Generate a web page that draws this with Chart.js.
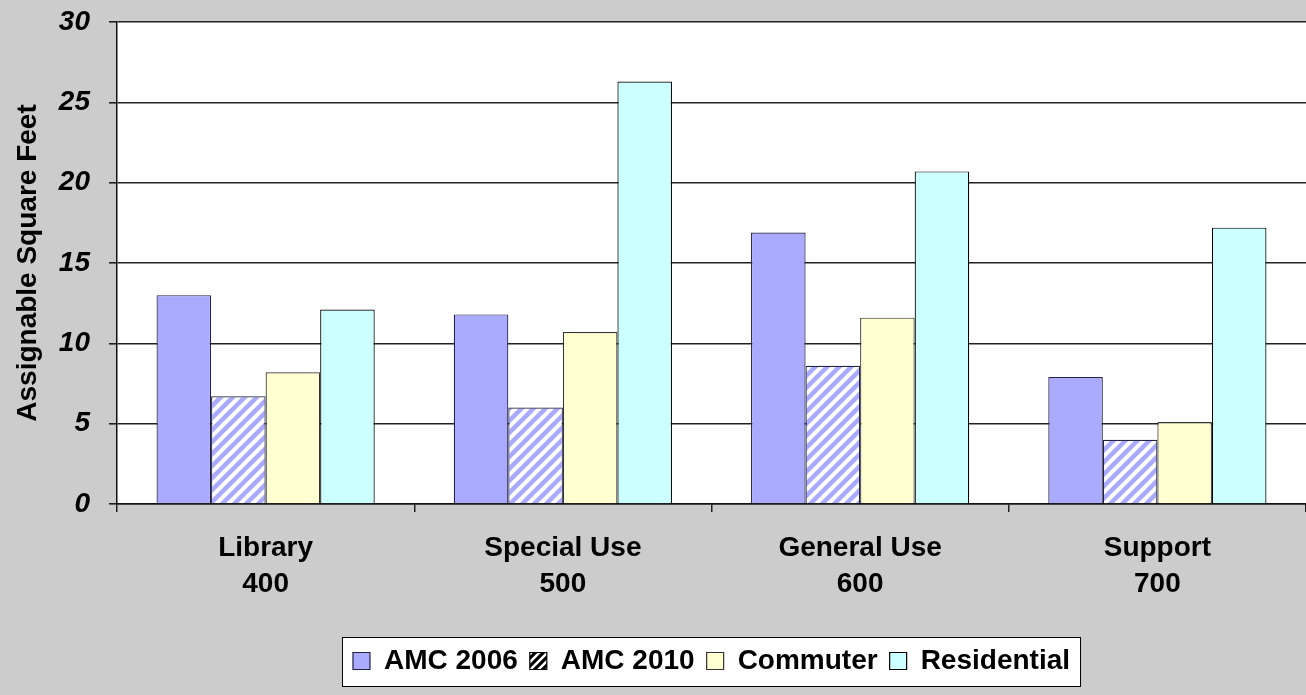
<!DOCTYPE html>
<html>
<head>
<meta charset="utf-8">
<script src="https://cdn.jsdelivr.net/npm/chart.js@4.4.1/dist/chart.umd.min.js"></script>
<style>
  body { margin: 0; background: #cccccc; }
  #wrap { width: 1306px; height: 695px; }
</style>
</head>
<body>
<div id="wrap"><canvas id="chart" width="1306" height="695"></canvas></div>
<script>
// data
const categories = [['Library', '400'], ['Special Use', '500'], ['General Use', '600'], ['Support', '700']];
const amc2006 = [13.0, 11.8, 16.9, 7.9];
const amc2010 = [6.7, 6.0, 8.6, 4.0];
const commuter = [8.2, 10.7, 11.6, 5.1];
const residential = [12.1, 26.3, 20.7, 17.2];

const FONT = "'Liberation Sans', Arial, sans-serif";

// diagonal stripe fill for AMC 2010
function makeStripes(bg, fg, size, lw) {
    const c = document.createElement('canvas');
    c.width = size;
    c.height = size;
    const x = c.getContext('2d');
    x.fillStyle = bg;
    x.fillRect(0, 0, size, size);
    x.strokeStyle = fg;
    x.lineWidth = lw;
    x.beginPath();
    x.moveTo(-size / 2, size / 2); x.lineTo(size / 2, -size / 2);
    x.moveTo(0, size); x.lineTo(size, 0);
    x.moveTo(size / 2, size * 1.5); x.lineTo(size * 1.5, size / 2);
    x.stroke();
    return x.createPattern(c, 'repeat');
}

const ctx = document.getElementById('chart').getContext('2d');
const hatch = makeStripes('#aaaaff', '#ffffff', 12, 4);
const legendHatch = makeStripes('#000000', '#ffffff', 8, 2.5);

// paints the white plot area and the legend frame, and centres the legend under the plot
const backdrop = {
    id: 'backdrop',
    afterLayout(chart) {
        const lg = chart.legend;
        lg.left = chart.chartArea.left;
        lg.right = chart.chartArea.right;
    },
    beforeDraw(chart) {
        const c = chart.ctx;
        const a = chart.chartArea;
        c.save();
        c.fillStyle = '#ffffff';
        c.fillRect(a.left, a.top, a.right - a.left, a.bottom - a.top);
        const boxes = chart.legend.legendHitBoxes;
        if (boxes && boxes.length) {
            const first = boxes[0];
            const last = boxes[boxes.length - 1];
            const l = first.left - 11;
            const r = last.left + last.width + 10;
            const t = first.top - 10;
            const b = first.top + 28 + 11;
            c.fillRect(l, t, r - l, b - t);
            c.strokeStyle = '#000000';
            c.lineWidth = 1;
            c.strokeRect(l + 0.5, t + 0.5, r - l, b - t);
        }
        c.restore();
    }
};

const chart = new Chart(ctx, {
    type: 'bar',
    data: {
        labels: categories,
        datasets: [{
            label: 'AMC 2006',
            data: amc2006,
            backgroundColor: '#aaaaff',
            borderColor: '#222244',
            borderWidth: 1.2
        },
        {
            label: 'AMC 2010',
            data: amc2010,
            backgroundColor: hatch,
            borderColor: '#222244',
            borderWidth: 1.2
        },
        {
            label: 'Commuter',
            data: commuter,
            backgroundColor: '#ffffd2',
            borderColor: '#333333',
            borderWidth: 1.2
        },
        {
            label: 'Residential',
            data: residential,
            backgroundColor: '#ccffff',
            borderColor: '#000000',
            borderWidth: 1.2
        }]
    },
    options: {
        responsive: false,
        animation: false,
        layout: { padding: { top: 22, right: 0, left: 0, bottom: 10 } },
        datasets: {
            bar: { categoryPercentage: 0.734, barPercentage: 1 }
        },
        plugins: {
            tooltip: { enabled: false },
            legend: {
                position: 'bottom',
                labels: {
                    color: '#000000',
                    font: { family: FONT, size: 28, weight: 'bold' },
                    boxWidth: 17,
                    boxHeight: 17,
                    padding: 12,
                    generateLabels(chart) {
                        const items = Chart.defaults.plugins.legend.labels.generateLabels(chart);
                        items[1].fillStyle = legendHatch;
                        items[1].strokeStyle = '#000000';
                        return items;
                    }
                }
            }
        },
        scales: {
            x: {
                afterFit(s) { s.height = 131; },
                grid: {
                    drawOnChartArea: false,
                    drawTicks: true,
                    tickLength: 8,
                    color: '#222222',
                    lineWidth: 1.5
                },
                border: { color: '#111111', width: 1.5 },
                ticks: {
                    color: '#000000',
                    padding: 18,
                    font: { family: FONT, size: 28, weight: 'bold', lineHeight: 1.3 }
                }
            },
            y: {
                min: 0,
                max: 30,
                afterFit(s) {
                    s.width = 117;
                    s.paddingTop = 0;
                    s.paddingBottom = 0;
                },
                grid: {
                    color: '#222222',
                    lineWidth: 1.6,
                    tickLength: 8
                },
                border: { color: '#111111', width: 1.5 },
                ticks: {
                    stepSize: 5,
                    color: '#000000',
                    padding: 19,
                    font: { family: FONT, size: 28, weight: 'bold', style: 'italic' }
                },
                title: {
                    display: true,
                    text: 'Assignable Square Feet',
                    color: '#000000',
                    padding: { top: 11, bottom: 0 },
                    font: { family: FONT, size: 28, weight: 'bold' }
                }
            }
        }
    },
    plugins: [backdrop]
});
</script>
</body>
</html>
